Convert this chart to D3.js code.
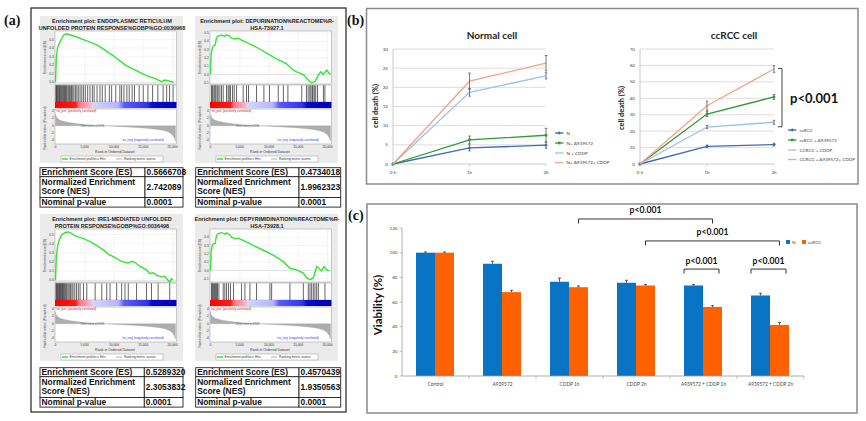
<!DOCTYPE html>
<html><head><meta charset="utf-8">
<script src="https://cdn.jsdelivr.net/npm/d3@7"></script>
<style>body{margin:0;background:#fff}svg{display:block}</style>
</head><body>
<svg id="c" width="866" height="421"></svg>
<script>
// ================= DATA =================
const gseaTitles = [
  ["Enrichment plot: ENDOPLASMIC RETICULUM", "UNFOLDED PROTEIN RESPONSE%GOBP%GO:0030968"],
  ["Enrichment plot: DEPURINATION%REACTOME%R-", "HSA-73927.1"],
  ["Enrichment plot: IRE1-MEDIATED UNFOLDED", "PROTEIN RESPONSE%GOBP%GO:0036498"],
  ["Enrichment plot: DEPYRIMIDINATION%REACTOME%R-", "HSA-73928.1"]
];
const esCurve1 = [[0,0],[140,0.29],[370,0.41],[820,0.48],[1390,0.553],[1840,0.567],[2520,0.553],[3660,0.53],[4500,0.505],[5360,0.484],[6200,0.46],[7060,0.437],[8200,0.387],[9000,0.35],[9900,0.31],[11020,0.25],[12160,0.193],[13300,0.155],[14430,0.116],[15560,0.077],[16410,0.058],[17260,0.038],[18110,0.007],[18680,0.026],[19250,0.019],[19820,0.007],[20210,0]];
const esCurve2 = [[0,0],[114,0.25],[342,0.33],[571,0.35],[799,0.36],[1027,0.448],[1313,0.468],[1884,0.476],[2454,0.464],[2740,0.48],[3196,0.468],[3596,0.44],[4167,0.43],[4738,0.44],[5308,0.417],[6165,0.39],[7877,0.33],[9589,0.258],[11302,0.19],[13014,0.13],[14156,0.052],[14727,0.032],[15868,0],[16724,-0.067],[17295,-0.1],[17866,-0.087],[18437,-0.008],[18836,0.032],[19293,0.004],[19864,0.052],[20320,0.012],[20549,0]];
const esCurve3 = [[0,0],[142,0.265],[369,0.379],[709,0.455],[1105,0.5],[1672,0.523],[2239,0.529],[2806,0.511],[3373,0.485],[3940,0.473],[4790,0.455],[5924,0.424],[7058,0.379],[8192,0.333],[9042,0.284],[9892,0.258],[10743,0.227],[11310,0.208],[11877,0.197],[12444,0.189],[13011,0.208],[13578,0.197],[14428,0.152],[15562,0.114],[16128,0.076],[16695,0.083],[17262,0.057],[18112,0.038],[18679,0.045],[19246,0],[19530,-0.019],[19813,0.019],[20097,0]];
const esCurve4 = [[0,0],[114,0.224],[342,0.314],[571,0.322],[799,0.322],[1027,0.42],[1313,0.44],[1884,0.457],[2454,0.435],[2740,0.451],[3196,0.435],[3596,0.4],[4167,0.38],[4738,0.388],[5594,0.361],[7306,0.302],[9019,0.243],[10731,0.184],[12443,0.106],[13585,0.027],[14727,0.008],[15868,-0.031],[16439,-0.09],[17010,-0.11],[17580,-0.09],[18151,0.047],[18608,0.02],[19008,-0.004],[19407,0.047],[19864,0.008],[20320,-0.004]];
const hits1 = [60,180,300,420,560,700,820,960,1100,1250,1400,1530,1700,1850,2000,2200,2400,2600,2750,2950,3150,3400,3650,3900,4200,4500,4800,5100,5500,5900,6300,6600,7100,7600,8000,8500,9200,9600,10300,11000,11300,11700,12200,12600,13100,13500,14300,15000,15800,16600,17500,18400,19000,19500,20100];
const hits2 = [170,340,570,740,910,1140,1310,1600,1880,2170,2740,3020,3200,3420,3770,4050,4450,5590,6150,6500,7870,9130,10080,11580,12460,13230,15600,16400,16700,16980,17170,17400,17520,17750,17980,18300,19300,19560];
const hits3 = [80,200,320,450,570,700,830,950,1080,1200,1350,1500,1650,1800,1950,2150,2350,2550,2800,3000,3300,3600,3900,4200,4790,5350,6780,7910,8760,9320,10460,11310,11880,12440,13860,15560,16410,17540,19530];
const hits4 = [170,340,500,680,850,1030,1200,1430,2170,2450,2740,3080,3420,3940,5310,5880,6740,7870,10160,10450,13580,15870,16720,17010,17290,17580,17860,18150,18440,19570];
const rankedMetric = [[0,3.2],[150,2.4],[400,1.9],[800,1.5],[1500,1.15],[2500,0.85],[3500,0.62],[4500,0.45],[5500,0.3],[6500,0.18],[7500,0.08],[8598,0],[10000,-0.12],[11500,-0.25],[13000,-0.4],[14500,-0.55],[16000,-0.75],[17500,-1.0],[18500,-1.3],[19300,-1.7],[19900,-2.3],[20300,-3.2],[20500,-4.2]];
const esDomains = [[-0.02,0.6],[-0.115,0.527],[-0.018,0.561],[-0.138,0.498]];
const esTicks = [[0,0.1,0.2,0.3,0.4,0.5],[-0.1,0,0.1,0.2,0.3,0.4,0.5],[0,0.1,0.2,0.3,0.4,0.5],[-0.1,0,0.1,0.2,0.3,0.4]];
const rankTicks = [0,5000,10000,15000,20000];
const metricTicks = [-4,-2,0,2,4];
const tableLabels = ["Enrichment Score (ES)", ["Normalized Enrichment","Score (NES)"], "Nominal p-value"];
const enrichmentScores = ["0.5666708","0.4734018","0.5289320","0.4570439"];
const normalizedScores = ["2.742089","1.9962323","2.3053832","1.9350563"];
const nominalP = ["0.0001","0.0001","0.0001","0.0001"];

const timePoints = ["0 h","1h","2h"];
const normalNames = ["N","N+ A939572","N + CDDP","N+ A939572+ CDDP"];
const normalValues = [[0,4.2,4.9],[0,6.3,7.5],[0,18.7,23.0],[0,21.6,26.3]];
const normalErrors = [[0,0.8,0.8],[0,1.0,1.8],[0,1.0,0.8],[0,2.1,2.0]];
const normalYTicks = [0,5,10,15,20,25,30];
const ccrccNames = ["ccRCC","ccRCC + A939572","CCRCC + CDDP","CCRCC + A939572+ CDDP"];
const ccrccValues = [[0,10.7,11.8],[0,30.4,40.8],[0,22.5,25.4],[0,35.5,57.8]];
const ccrccErrors = [[0,0.8,0.8],[0,1.5,1.5],[0,1.0,1.2],[0,2.8,2.0]];
const ccrccYTicks = [0,10,20,30,40,50,60,70];

const viabilityCategories = ["Control","A939572","CDDP 1h","CDDP 2h","A939572 + CDDP 1h","A939572 + CDDP 2h"];
const viabilitySeries = ["N","ccRCC"];
const viabilityN = [100,91,76.4,75.6,73.4,65.3];
const viabilityCCRCC = [100,68,72,73.4,56,41.4];
const viabilityErrN = [0.6,2,3,2,0.8,1.8];
const viabilityErrC = [0.6,1.5,1,0.8,1,2];
const viabilityTicks = [0,20,40,60,80,100,120];
const sigBrackets = [
  {from:[2,1], to:[4,1], level:127.3, label:"p<0.001"},
  {from:[3,1], to:[5,1], level:109.5, label:"p<0.001"},
  {from:[4,0], to:[4,1], level:86.7, label:"p<0.001"},
  {from:[5,0], to:[5,1], level:86.7, label:"p<0.001"}
];

// ================= DRAWING =================
const svg = d3.select("#c");
const SANS = "'Liberation Sans', Arial, sans-serif";
const CAL = "Lato, 'Liberation Sans', sans-serif";
const defs = svg.append("defs");
const grad = defs.append("linearGradient").attr("id","gbar");
[[0,"#ff0000"],[0.17,"#ff1a1a"],[0.2,"#ff7a8a"],[0.29,"#ffb0c8"],[0.31,"#d4d4ff"],[0.52,"#b4b4ff"],[0.57,"#5a5aff"],[0.76,"#3434e6"],[0.8,"#0a0acc"],[1,"#0000b4"]]
  .forEach(s => grad.append("stop").attr("offset",s[0]).attr("stop-color",s[1]));

// panel frames
svg.append("rect").attr("x",31).attr("y",8).attr("width",315).attr("height",404).attr("fill","none").attr("stroke","#333").attr("stroke-width",1.3);
svg.append("rect").attr("x",366.5).attr("y",8.5).attr("width",491.5).attr("height",175.5).attr("fill","none").attr("stroke","#8a8a8a").attr("stroke-width",1.5);
svg.append("rect").attr("x",367).attr("y",204).attr("width",490).attr("height",209).attr("fill","none").attr("stroke","#8a8a8a").attr("stroke-width",1.5);
[["(a)",4,24.5],["(b)",347,24.5],["(c)",348,219.5]].forEach(l =>
  svg.append("text").attr("x",l[1]).attr("y",l[2]).text(l[0]).attr("font-family","'Liberation Serif', serif").attr("font-weight","bold").attr("font-size",14).attr("fill","#111"));

// ---------- GSEA ----------
const esCurves = [esCurve1, esCurve2, esCurve3, esCurve4];
const hitsAll = [hits1, hits2, hits3, hits4];
function drawGSEA(ox, oy, k) {
  const g = svg.append("g").attr("transform", `translate(${ox},${oy})`);
  g.append("rect").attr("width",143).attr("height",147).attr("fill","#ebebeb");
  gseaTitles[k].forEach((t,i) => g.append("text").attr("x",72).attr("y",6.5+i*7).attr("text-anchor","middle")
     .attr("font-family",SANS).attr("font-weight","bold").attr("font-size",5.5).attr("fill","#222").text(t));
  const x = d3.scaleLinear().domain([0,20600]).range([15.5,136]);
  const yE = d3.scaleLinear().domain(esDomains[k]).range([68,15]);
  const yM = d3.scaleLinear().domain([-5,4.6]).range([128,93]);
  // ES box
  g.append("rect").attr("x",15).attr("y",15).attr("width",121.5).attr("height",53).attr("fill","#fff").attr("stroke","#999").attr("stroke-width",0.5);
  esTicks[k].forEach(t => g.append("line").attr("x1",15).attr("x2",136.5).attr("y1",yE(t)).attr("y2",yE(t)).attr("stroke",t===0?"#bbb":"#e6e6e6").attr("stroke-width",0.4));
  rankTicks.forEach(t => g.append("line").attr("x1",x(t)).attr("x2",x(t)).attr("y1",15).attr("y2",68).attr("stroke","#e6e6e6").attr("stroke-width",0.4));
  esTicks[k].forEach(t => g.append("text").attr("x",13.8).attr("y",yE(t)+1).attr("text-anchor","end").attr("font-family",SANS).attr("font-size",3.2).attr("fill","#333").text(t.toFixed(1)));
  g.append("path").datum(esCurves[k]).attr("d", d3.line().x(d=>x(d[0])).y(d=>yE(d[1])))
    .attr("fill","none").attr("stroke","#33e633").attr("stroke-width",1.4);
  g.append("text").attr("transform",`translate(5.5,41.5) rotate(-90)`).attr("text-anchor","middle").attr("font-family",SANS).attr("font-size",3.3).attr("fill","#333").text("Enrichment score (ES)");
  // hits
  g.append("rect").attr("x",15).attr("y",69).attr("width",121.5).attr("height",17).attr("fill","#fff").attr("stroke","#999").attr("stroke-width",0.5);
  hitsAll[k].forEach(h => g.append("line").attr("x1",x(h)).attr("x2",x(h)).attr("y1",69.3).attr("y2",86).attr("stroke","#111").attr("stroke-width",0.65));
  // color bar
  g.append("rect").attr("x",15).attr("y",86).attr("width",121.5).attr("height",6).attr("fill","url(#gbar)");
  // ranked list
  g.append("rect").attr("x",15).attr("y",93).attr("width",121.5).attr("height",35).attr("fill","#fff").attr("stroke","#999").attr("stroke-width",0.5);
  g.append("path").datum(rankedMetric).attr("d", d3.area().x(d=>x(d[0])).y0(yM(0)).y1(d=>yM(d[1])))
    .attr("fill","#adadad").attr("stroke","#999").attr("stroke-width",0.3);
  metricTicks.forEach(t => g.append("text").attr("x",13.8).attr("y",yM(t)+1).attr("text-anchor","end").attr("font-family",SANS).attr("font-size",3.2).attr("fill","#333").text(t));
  g.append("text").attr("x",16).attr("y",96).attr("font-family",SANS).attr("font-size",3).attr("fill","#e01010").text("'na_pos' (positively correlated)");
  g.append("text").attr("x",41).attr("y",110.5).attr("font-family",SANS).attr("font-size",2.8).attr("fill","#555").text("Zero cross at 8598");
  g.append("text").attr("x",82).attr("y",125).attr("font-family",SANS).attr("font-size",3).attr("fill","#3535ff").text("'na_neg' (negatively correlated)");
  g.append("text").attr("transform",`translate(5.5,112) rotate(-90)`).attr("text-anchor","middle").attr("font-family",SANS).attr("font-size",3.2).attr("fill","#333").text("Ranked list metric (Preranked)");
  rankTicks.forEach(t => g.append("text").attr("x",x(t)).attr("y",132).attr("text-anchor","middle").attr("font-family",SANS).attr("font-size",3.3).attr("fill","#333").text(d3.format(",")(t)));
  g.append("text").attr("x",75).attr("y",137).attr("text-anchor","middle").attr("font-family",SANS).attr("font-size",3.6).attr("fill","#333").text("Rank in Ordered Dataset");
  // legend
  g.append("rect").attr("x",21).attr("y",140).attr("width",102).attr("height",6).attr("fill","#fff").attr("stroke","#888").attr("stroke-width",0.4);
  g.append("line").attr("x1",22).attr("x2",28).attr("y1",143).attr("y2",143).attr("stroke","#33e633").attr("stroke-width",1.5);
  g.append("text").attr("x",29.5).attr("y",144.2).attr("font-family",SANS).attr("font-size",3.2).attr("fill","#333").text("Enrichment profile");
  g.append("line").attr("x1",55).attr("x2",59).attr("y1",143).attr("y2",143).attr("stroke","#777").attr("stroke-width",0.8);
  g.append("text").attr("x",60).attr("y",144.2).attr("font-family",SANS).attr("font-size",3.2).attr("fill","#333").text("Hits");
  g.append("line").attr("x1",76).attr("x2",82).attr("y1",143).attr("y2",143).attr("stroke","#ccc").attr("stroke-width",1.5);
  g.append("text").attr("x",84).attr("y",144.2).attr("font-family",SANS).attr("font-size",3.2).attr("fill","#333").text("Ranking metric scores");
}
function drawTable(x0, y0, w, split, k) {
  const g = svg.append("g");
  const rows = [9, 20.8, 9.6];
  let y = y0;
  const values = [enrichmentScores[k], normalizedScores[k], nominalP[k]];
  rows.forEach((h,i) => {
    g.append("rect").attr("x",x0).attr("y",y).attr("width",split).attr("height",h).attr("fill","#fff").attr("stroke","#222").attr("stroke-width",0.9);
    g.append("rect").attr("x",x0+split).attr("y",y).attr("width",w-split).attr("height",h).attr("fill","#fff").attr("stroke","#222").attr("stroke-width",0.9);
    const lab = tableLabels[i];
    const tf = s => s.attr("font-family",SANS).attr("font-weight","bold").attr("font-size",8.4).attr("fill","#111");
    if (Array.isArray(lab)) {
      lab.forEach((t,j) => tf(g.append("text").attr("x",x0+1.5).attr("y",y+8.4+j*9.3).text(t)));
    } else tf(g.append("text").attr("x",x0+1.5).attr("y",y+h/2+3.1).text(lab));
    tf(g.append("text").attr("x",x0+split+1.5).attr("y",y+h/2+3.1).text(values[i]));
    y += h;
  });
}
drawGSEA(40,16,0); drawGSEA(195,16,1); drawGSEA(40,214,2); drawGSEA(195,214,3);
drawTable(40,167.7,143,105,0); drawTable(195.7,167.7,145,103.3,1);
drawTable(40,367.7,143,104.3,2); drawTable(195.7,367.7,145,103.3,3);

// ---------- (b) line charts ----------
const lineColors = ["#3c6eb4","#2f9a36","#9cc0e8","#f6a286"];
function lineChart(cfg) {
  const g = svg.append("g");
  const x = d3.scalePoint().domain(timePoints).range([cfg.x0, cfg.x1]);
  const y = d3.scaleLinear().domain([0, d3.max(cfg.ticks)]).range([164, 49]);
  cfg.ticks.forEach(t => {
    if (t>0) g.append("line").attr("x1",cfg.x0).attr("x2",cfg.x1).attr("y1",y(t)).attr("y2",y(t)).attr("stroke","#d4d4d4").attr("stroke-width",0.8);
    g.append("text").attr("x",cfg.x0-5).attr("y",y(t)+1.6).attr("text-anchor","end").attr("font-family",CAL).attr("font-size",4.6).attr("fill","#444").text(t);
  });
  g.append("line").attr("x1",cfg.x0).attr("x2",cfg.x0).attr("y1",49).attr("y2",164).attr("stroke","#bdbdbd").attr("stroke-width",0.8);
  g.append("line").attr("x1",cfg.x0).attr("x2",cfg.x1).attr("y1",164).attr("y2",164).attr("stroke","#bdbdbd").attr("stroke-width",0.8);
  timePoints.forEach(t => {
    g.append("line").attr("x1",x(t)).attr("x2",x(t)).attr("y1",164).attr("y2",166.5).attr("stroke","#bdbdbd").attr("stroke-width",0.6);
    g.append("text").attr("x",x(t)).attr("y",173.5).attr("text-anchor","middle").attr("font-family",CAL).attr("font-size",4.6).attr("fill","#444").text(t);
  });
  cfg.values.forEach((vals,s) => {
    const pts = vals.map((v,i) => [x(timePoints[i]), y(v)]);
    g.append("path").attr("d", d3.line()(pts)).attr("fill","none").attr("stroke",lineColors[s]).attr("stroke-width",1.3);
    vals.forEach((v,i) => {
      const e = cfg.errors[s][i]; if (!e) return;
      const xx = x(timePoints[i]);
      g.append("line").attr("x1",xx).attr("x2",xx).attr("y1",y(v-e)).attr("y2",y(v+e)).attr("stroke","#555").attr("stroke-width",0.8);
      [v-e, v+e].forEach(b => g.append("line").attr("x1",xx-1.2).attr("x2",xx+1.2).attr("y1",y(b)).attr("y2",y(b)).attr("stroke","#555").attr("stroke-width",0.8));
    });
    if (s<2) vals.forEach((v,i) => marker(g, x(timePoints[i]), y(v), s));
  });
  g.append("text").attr("x",cfg.titleX).attr("y",39).attr("text-anchor","middle").attr("font-family",CAL).attr("font-weight","bold").attr("font-size",10).attr("fill","#222").text(cfg.title);
  g.append("text").attr("transform",`translate(${cfg.labX},${cfg.labY}) rotate(-90)`).attr("text-anchor","middle").attr("font-family",CAL).attr("font-weight","bold").attr("font-size",7.5).attr("fill","#222").text("cell death (%)");
  cfg.names.forEach((n,s) => {
    const ly = cfg.legY[s];
    g.append("line").attr("x1",cfg.legX).attr("x2",cfg.legX+8.5).attr("y1",ly).attr("y2",ly).attr("stroke",lineColors[s]).attr("stroke-width",1.3);
    if (s<2) marker(g, cfg.legX+4.2, ly, s);
    g.append("text").attr("x",cfg.legX+11.5).attr("y",ly+1.6).attr("font-family",CAL).attr("font-size",4.6).attr("fill","#444").text(n);
  });
  return {g, x, y};
}
function marker(g, cx, cy, s) {
  if (s===0) g.append("path").attr("d",`M${cx},${cy-1.8}L${cx+1.8},${cy}L${cx},${cy+1.8}L${cx-1.8},${cy}Z`).attr("fill",lineColors[0]);
  else g.append("rect").attr("x",cx-1.3).attr("y",cy-1.3).attr("width",2.6).attr("height",2.6).attr("fill",lineColors[1]);
}
lineChart({x0:393,x1:546,ticks:normalYTicks,values:normalValues,errors:normalErrors,names:normalNames,title:"Normal cell",titleX:492,labX:378,labY:106,legX:555,legY:[133,143,153,162.7]});
const cc = lineChart({x0:640,x1:774,ticks:ccrccYTicks,values:ccrccValues,errors:ccrccErrors,names:ccrccNames,title:"ccRCC cell",titleX:734,labX:624,labY:108,legX:788,legY:[130,140,150,159.5]});
// bracket spanning the 2h values in ccRCC chart
{
  const yTop = cc.y(ccrccValues[3][2]) - 0.5, yBot = cc.y(ccrccValues[2][2]) + 4.5;
  svg.append("path").attr("d",`M778,${yTop}H782V${yBot}H778`).attr("fill","none").attr("stroke","#444").attr("stroke-width",1);
  svg.append("text").attr("x",790).attr("y",102.5).attr("font-family",CAL).attr("font-weight","bold").attr("font-size",13).attr("fill","#111").text("p<0.001");
}

// ---------- (c) bar chart ----------
{
  const g = svg.append("g");
  const x = d3.scaleBand().domain(viabilityCategories).range([402,804]);
  const xs = d3.scaleBand().domain(viabilitySeries).range([14,52]);
  const y = d3.scaleLinear().domain([0,120]).range([376,228]);
  const barColors = ["#0a74c4","#ff6000"];
  const seriesVals = [viabilityN, viabilityCCRCC];
  const seriesErr = [viabilityErrN, viabilityErrC];
  seriesVals.forEach((vals,s) => vals.forEach((v,i) => {
    const bx = x(viabilityCategories[i]) + xs(viabilitySeries[s]);
    g.append("rect").attr("x",bx).attr("y",y(v)).attr("width",xs.bandwidth()).attr("height",y(0)-y(v)).attr("fill",barColors[s]);
    const cx = bx + xs.bandwidth()/2, e = seriesErr[s][i];
    g.append("line").attr("x1",cx).attr("x2",cx).attr("y1",y(v)).attr("y2",y(v+e)).attr("stroke","#333").attr("stroke-width",0.8);
    g.append("line").attr("x1",cx-1.5).attr("x2",cx+1.5).attr("y1",y(v+e)).attr("y2",y(v+e)).attr("stroke","#333").attr("stroke-width",0.8);
  }));
  g.append("line").attr("x1",402).attr("x2",804).attr("y1",376).attr("y2",376).attr("stroke","#9a9a9a").attr("stroke-width",0.8);
  g.append("line").attr("x1",402).attr("x2",402).attr("y1",228).attr("y2",376).attr("stroke","#9a9a9a").attr("stroke-width",0.8);
  viabilityCategories.forEach((c,i) => {
    g.append("line").attr("x1",x(c)+x.bandwidth()).attr("x2",x(c)+x.bandwidth()).attr("y1",376).attr("y2",379).attr("stroke","#9a9a9a").attr("stroke-width",0.6);
    g.append("text").attr("x",x(c)+x.bandwidth()/2).attr("y",385.5).attr("text-anchor","middle").attr("font-family",CAL).attr("font-size",4.8).attr("fill","#444").text(c);
  });
  viabilityTicks.forEach(t => {
    g.append("line").attr("x1",399.5).attr("x2",402).attr("y1",y(t)).attr("y2",y(t)).attr("stroke","#9a9a9a").attr("stroke-width",0.6);
    g.append("text").attr("x",397.5).attr("y",y(t)+1.6).attr("text-anchor","end").attr("font-family",CAL).attr("font-size",4.6).attr("fill","#444").text(t);
  });
  g.append("text").attr("transform","translate(382,305) rotate(-90)").attr("text-anchor","middle").attr("font-family",CAL).attr("font-weight","bold").attr("font-size",11.5).attr("fill","#111").text("Viability (%)");
  // legend
  viabilitySeries.forEach((n,s) => {
    const lx = [786,802][s];
    g.append("rect").attr("x",lx).attr("y",240).attr("width",4).attr("height",4).attr("fill",barColors[s]);
    g.append("text").attr("x",lx+6).attr("y",243.8).attr("font-family",CAL).attr("font-size",4.6).attr("fill","#444").text(n);
  });
  // significance brackets
  sigBrackets.forEach(b => {
    const same = b.from[0]===b.to[0];
    const fx = x(viabilityCategories[b.from[0]]) + xs(viabilitySeries[b.from[1]]);
    const tx = x(viabilityCategories[b.to[0]]) + xs(viabilitySeries[b.to[1]]);
    const x1 = same ? fx : fx + xs.bandwidth()/2;
    const x2 = same ? tx + xs.bandwidth() - 3 : tx + xs.bandwidth()/2;
    const yy = y(b.level);
    g.append("path").attr("d",`M${x1},${yy+4.5}V${yy}H${x2}V${yy+4.5}`).attr("fill","none").attr("stroke","#333").attr("stroke-width",1);
    g.append("text").attr("x",(x1+x2)/2).attr("y",yy-5.5).attr("text-anchor","middle").attr("font-family",CAL).attr("font-weight","bold").attr("font-size",8.6).attr("fill","#111").text(b.label);
  });
}
</script>
</body></html>
